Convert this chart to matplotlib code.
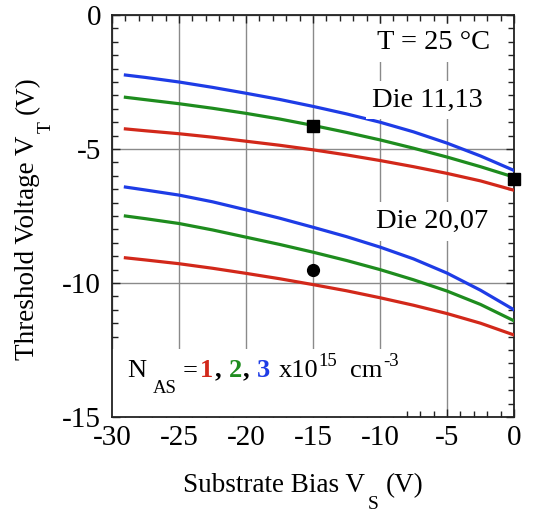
import matplotlib
matplotlib.use("Agg")
import matplotlib.pyplot as plt
from matplotlib.patches import Rectangle
from matplotlib.ticker import MultipleLocator
from matplotlib.transforms import offset_copy

# substrate bias sweep (V)
vs = [-29, -27.5, -25, -22.5, -20, -17.5, -15, -12.5, -10, -7.5, -5, -2.5, 0]

# threshold voltage, die 11,13, for N_AS = 1, 2, 3 x1e15 cm^-3
vt_d1113_n1 = [-4.25, -4.32, -4.43, -4.56, -4.71, -4.86, -5.03,
               -5.22, -5.43, -5.66, -5.91, -6.19, -6.54]
vt_d1113_n2 = [-3.07, -3.16, -3.31, -3.48, -3.67, -3.88, -4.12,
               -4.38, -4.66, -4.97, -5.30, -5.66, -6.05]
vt_d1113_n3 = [-2.24, -2.33, -2.50, -2.70, -2.92, -3.15, -3.41,
               -3.69, -4.00, -4.36, -4.78, -5.26, -5.80]

# threshold voltage, die 20,07
vt_d2007_n1 = [-9.06, -9.14, -9.28, -9.45, -9.64, -9.84, -10.06,
               -10.29, -10.55, -10.83, -11.14, -11.50, -11.94]
vt_d2007_n2 = [-7.50, -7.60, -7.78, -8.02, -8.29, -8.56, -8.85,
               -9.16, -9.50, -9.88, -10.30, -10.80, -11.41]
vt_d2007_n3 = [-6.42, -6.53, -6.72, -6.97, -7.27, -7.58, -7.92,
               -8.27, -8.66, -9.10, -9.63, -10.27, -11.00]

# measured points
meas_d1113_vs = [-15, 0]
meas_d1113_vt = [-4.13, -6.11]
meas_d2007_vs = [-15]
meas_d2007_vt = [-9.51]

RED = "#d2281a"
GREEN = "#1e8c1e"
BLUE = "#1e3ce6"

plt.rcParams["font.family"] = ["Liberation Serif", "DejaVu Serif"]
plt.rcParams["axes.unicode_minus"] = False

FS_TICK = 21
FS_LABEL = 19.5
FS_NOTE = 20.5
FS_LEG = 19
FS_SMALL = 13.5


def chain_text(fig, trans, x, y, pieces, rotation=0):
    """Lay out text pieces one after another; returns the created texts."""
    renderer = fig.canvas.get_renderer()
    along = 0.0
    texts = []
    for s, size, color, weight, gap, drop in pieces:
        along += gap
        if rotation == 0:
            dx, dy = along, -drop
        else:
            dx, dy = drop, along
        t = fig.text(x, y, s,
                     transform=offset_copy(trans, fig=fig, x=dx, y=dy, units="points"),
                     fontsize=size, color=color, fontweight=weight,
                     rotation=rotation, rotation_mode="anchor",
                     ha="left", va="baseline")
        bb = t.get_window_extent(renderer)
        along += (bb.width if rotation == 0 else bb.height) * 72 / fig.dpi
        texts.append(t)
    return texts


fig = plt.figure(figsize=(5.38, 5.13), dpi=100)
ax = fig.add_axes([112 / 538, 96 / 513, 402 / 538, 402 / 513])

lw = 2.3
ax.plot(vs, vt_d1113_n1, color=RED, lw=lw, zorder=3)
ax.plot(vs, vt_d1113_n2, color=GREEN, lw=lw, zorder=3)
ax.plot(vs, vt_d1113_n3, color=BLUE, lw=lw, zorder=3)
ax.plot(vs, vt_d2007_n1, color=RED, lw=lw, zorder=3)
ax.plot(vs, vt_d2007_n2, color=GREEN, lw=lw, zorder=3)
ax.plot(vs, vt_d2007_n3, color=BLUE, lw=lw, zorder=3)

ax.plot(meas_d1113_vs, meas_d1113_vt, ls="none", marker="s", ms=9.3,
        color="black", clip_on=False, zorder=5)
ax.plot(meas_d2007_vs, meas_d2007_vt, ls="none", marker="o", ms=8.5,
        color="black", zorder=5)

ax.set_xlim(-30, 0)
ax.set_ylim(-15, 0)
ax.xaxis.set_major_locator(MultipleLocator(5))
ax.xaxis.set_minor_locator(MultipleLocator(1))
ax.yaxis.set_major_locator(MultipleLocator(5))
ax.yaxis.set_minor_locator(MultipleLocator(0.5))
ax.tick_params(which="both", direction="in", top=True, right=True,
               width=1.0, colors="#222222", labelcolor="black")
ax.tick_params(which="major", length=6, labelsize=FS_TICK)
ax.tick_params(which="minor", length=4)
ax.tick_params(axis="x", which="major", pad=6)
ax.tick_params(axis="y", which="major", pad=8)
for sp in ax.spines.values():
    sp.set_linewidth(1.3)
    sp.set_color("#222222")

ax.set_axisbelow(True)
ax.grid(True, which="major", color="#8a8a8a", lw=1.0)

box = dict(facecolor="white", edgecolor="none", pad=5)
ax.text(-1.8, -1.04, "T = 25 °C", ha="right", va="center", fontsize=FS_NOTE,
        bbox=box, zorder=4)
ax.text(-2.3, -3.17, "Die 11,13", ha="right", va="center", fontsize=FS_NOTE,
        bbox=box, zorder=4)
ax.text(-1.9, -7.71, "Die 20,07", ha="right", va="center", fontsize=FS_NOTE,
        bbox=box, zorder=4)

# doping legend with coloured values
nas = chain_text(fig, ax.transData, -28.85, -13.5, [
    ("N", FS_LEG, "black", "normal", 0, 0),
    ("AS", FS_SMALL, "black", "normal", 4.5, 12),
    ("=", FS_LEG, "black", "normal", 4.5, 0),
    ("1", FS_LEG, RED, "bold", 1.5, 0),
    (",", FS_LEG, "black", "bold", 0.8, 0),
    ("2", FS_LEG, GREEN, "bold", 5.5, 0),
    (",", FS_LEG, "black", "bold", 0.8, 0),
    ("3", FS_LEG, BLUE, "bold", 5.5, 0),
    ("x10", FS_LEG, "black", "normal", 6, 0),
    ("15", FS_SMALL, "black", "normal", 0.5, -7.5),
    ("cm", FS_LEG, "black", "normal", 9, 0),
    ("-3", FS_SMALL, "black", "normal", 0.5, -7.5),
])
renderer = fig.canvas.get_renderer()
right = max(t.get_window_extent(renderer).x1 for t in nas)
top = max(t.get_window_extent(renderer).y1 for t in nas)
inv = ax.transAxes.inverted()
rx, ry = inv.transform((right + 4, top + 4))
ax.add_patch(Rectangle((0, 0), rx, ry, transform=ax.transAxes,
                       facecolor="white", edgecolor="none", zorder=1))

# axis labels with dropped subscripts
chain_text(fig, fig.transFigure, 183 / 538, 1 - 492 / 513, [
    ("Substrate Bias V", FS_LABEL, "black", "normal", 0, 0),
    ("S", FS_SMALL + 0.5, "black", "normal", 2, 12),
    ("(V)", FS_LABEL, "black", "normal", 5, 0),
])
chain_text(fig, fig.transFigure, 34 / 538, 1 - 360 / 513, [
    ("Threshold Voltage V", FS_LABEL, "black", "normal", 0, 0),
    ("T", FS_SMALL + 0.5, "black", "normal", 2, 12),
    ("(V)", FS_LABEL, "black", "normal", 5, 0),
], rotation=90)

fig.savefig("out.png", dpi=100)
